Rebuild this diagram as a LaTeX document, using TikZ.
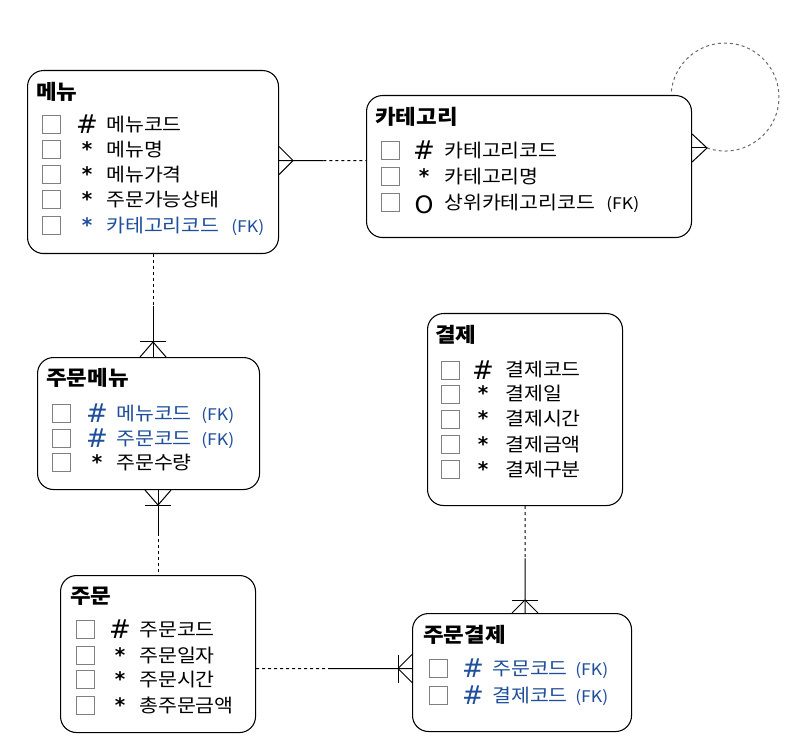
\documentclass[tikz,border=0pt]{standalone}
\usepackage{fontspec}
\setmainfont{Noto Sans CJK KR}[FakeStretch=1.1]
\newfontfamily\symfont{DejaVu Sans}
\usetikzlibrary{calc}
\definecolor{fkblue}{RGB}{31,78,155}
\definecolor{chkgray}{RGB}{128,128,128}
\definecolor{loopgray}{RGB}{105,105,105}
\tikzset{
  entity/.style={draw, fill=white, rounded corners=12pt, line width=0.8pt, anchor=north west, inner sep=0pt},
  etitle/.style={anchor=base west, inner sep=0pt, font=\fontsize{15.3}{18}\selectfont\bfseries},
  chk/.style={draw=chkgray, line width=0.75pt, minimum size=13.5pt, inner sep=0pt},
  hashsym/.style={anchor=base, inner sep=0pt, font=\symfont\fontsize{19.5}{22}\selectfont},
  starsym/.style={anchor=base, inner sep=0pt, font=\symfont\bfseries\fontsize{15}{18}\selectfont},
  osym/.style={anchor=base, inner sep=0pt, font=\symfont\fontsize{18}{20}\selectfont},
  attr/.style={anchor=base west, inner sep=0pt, font=\fontsize{14}{16}\selectfont},
  fk/.style={anchor=base west, inner sep=0pt, font=\fontsize{12}{14}\selectfont},
  idline/.style={line width=0.75pt},
  optline/.style={line width=0.75pt, dash pattern=on 2.25pt off 2.25pt},
  loopline/.style={line width=0.75pt, draw=loopgray, dash pattern=on 2.25pt off 2.25pt},
}
\begin{document}
\begin{tikzpicture}[x=0.75pt,y=-0.75pt]
\useasboundingbox (0,0) rectangle (797,756);

% ---------- entity boxes ----------
\node[entity, minimum width=188.25pt, minimum height=137.25pt] (menu) at (27,70) {};
\node[entity, minimum width=243.75pt, minimum height=106.5pt] (cat) at (366,95) {};
\node[entity, minimum width=166.5pt, minimum height=99pt] (om) at (37,357) {};
\node[entity, minimum width=146.25pt, minimum height=144pt] (pay) at (427,313) {};
\node[entity, minimum width=146.25pt, minimum height=117.75pt] (order) at (60,575) {};
\node[entity, minimum width=164.25pt, minimum height=88.5pt] (op) at (412,613) {};

% ---------- 메뉴 ----------
\node[etitle] (m-t) at (36,100) {메뉴};
\node[chk] (m-c1) at (51,125) {};
\node[chk] (m-c2) at (51,150) {};
\node[chk] (m-c3) at (51,175) {};
\node[chk] (m-c4) at (51,200) {};
\node[chk] (m-c5) at (51,226) {};
\node[hashsym] (m-s1) at (87,134) {\#};
\node[starsym] (m-s2) at (87,157) {*};
\node[starsym] (m-s3) at (87,182) {*};
\node[starsym] (m-s4) at (87,207) {*};
\node[starsym, text=fkblue] (m-s5) at (87,233) {*};
\node[attr] (m-a1) at (106,132) {메뉴코드};
\node[attr] (m-a2) at (106,157) {메뉴명};
\node[attr] (m-a3) at (106,182) {메뉴가격};
\node[attr] (m-a4) at (106,207) {주문가능상태};
\node[attr, text=fkblue] (m-a5) at (106,233) {카테고리코드};
\node[fk, text=fkblue] (m-f5) at (231,233) {(FK)};

% ---------- 카테고리 ----------
\node[etitle] (k-t) at (375,125) {카테고리};
\node[chk] (k-c1) at (390,151) {};
\node[chk] (k-c2) at (390,177) {};
\node[chk] (k-c3) at (390,203) {};
\node[hashsym] (k-s1) at (424,160) {\#};
\node[starsym] (k-s2) at (424,184) {*};
\node[osym] (k-s3) at (424,214) {O};
\node[attr] (k-a1) at (444,158) {카테고리코드};
\node[attr] (k-a2) at (444,184) {카테고리명};
\node[attr] (k-a3) at (444,210) {상위카테고리코드};
\node[fk] (k-f3) at (606,210) {(FK)};

% ---------- 주문메뉴 ----------
\node[etitle] (n-t) at (46,385) {주문메뉴};
\node[chk] (n-c1) at (61,413) {};
\node[chk] (n-c2) at (61,438) {};
\node[chk] (n-c3) at (61,462) {};
\node[hashsym, text=fkblue] (n-s1) at (97,422) {\#};
\node[hashsym, text=fkblue] (n-s2) at (97,447) {\#};
\node[starsym] (n-s3) at (97,469) {*};
\node[attr, text=fkblue] (n-a1) at (116,420) {메뉴코드};
\node[attr, text=fkblue] (n-a2) at (116,445) {주문코드};
\node[attr] (n-a3) at (116,469) {주문수량};
\node[fk, text=fkblue] (n-f1) at (201,420) {(FK)};
\node[fk, text=fkblue] (n-f2) at (201,445) {(FK)};

% ---------- 결제 ----------
\node[etitle] (p-t) at (435,343) {결제};
\node[chk] (p-c1) at (450,370) {};
\node[chk] (p-c2) at (450,394) {};
\node[chk] (p-c3) at (450,419) {};
\node[chk] (p-c4) at (450,444) {};
\node[chk] (p-c5) at (450,469) {};
\node[hashsym] (p-s1) at (483,379) {\#};
\node[starsym] (p-s2) at (483,401) {*};
\node[starsym] (p-s3) at (483,426) {*};
\node[starsym] (p-s4) at (483,451) {*};
\node[starsym] (p-s5) at (483,476) {*};
\node[attr] (p-a1) at (505,377) {결제코드};
\node[attr] (p-a2) at (505,401) {결제일};
\node[attr] (p-a3) at (505,426) {결제시간};
\node[attr] (p-a4) at (505,451) {결제금액};
\node[attr] (p-a5) at (505,476) {결제구분};

% ---------- 주문 ----------
\node[etitle] (o-t) at (70,603) {주문};
\node[chk] (o-c1) at (85,629) {};
\node[chk] (o-c2) at (85,655) {};
\node[chk] (o-c3) at (85,679) {};
\node[chk] (o-c4) at (85,705) {};
\node[hashsym] (o-s1) at (120,638) {\#};
\node[starsym] (o-s2) at (120,662) {*};
\node[starsym] (o-s3) at (120,686) {*};
\node[starsym] (o-s4) at (120,712) {*};
\node[attr] (o-a1) at (139,636) {주문코드};
\node[attr] (o-a2) at (139,662) {주문일자};
\node[attr] (o-a3) at (139,686) {주문시간};
\node[attr] (o-a4) at (139,712) {총주문금액};

% ---------- 주문결제 ----------
\node[etitle] (q-t) at (423,642) {주문결제};
\node[chk] (q-c1) at (438,668) {};
\node[chk] (q-c2) at (438,695) {};
\node[hashsym, text=fkblue] (q-s1) at (473,677) {\#};
\node[hashsym, text=fkblue] (q-s2) at (473,704) {\#};
\node[attr, text=fkblue] (q-a1) at (492,675) {주문코드};
\node[attr, text=fkblue] (q-a2) at (492,702) {결제코드};
\node[fk, text=fkblue] (q-f1) at (575,675) {(FK)};
\node[fk, text=fkblue] (q-f2) at (575,702) {(FK)};

% ---------- connectors ----------
% 메뉴 >---- 카테고리
\coordinate (c1a) at ($(menu.east)+(0,-1.5)$);
\coordinate (c1b) at (cat.west |- c1a);
\coordinate (c1m) at ($(c1a)!0.51!(c1b)$);
\draw[idline] (c1a) -- (c1m);
\draw[optline] (c1m) -- (c1b);
\draw[idline] ($(c1a)+(0,-14)$) -- ($(c1a)+(14,0)$) -- ($(c1a)+(0,14)$);

% 카테고리 self relation
\coordinate (c2a) at ($(cat.north east)+(0,53)$);
\coordinate (c2t) at ($(c2a)+(15,0)$);
\draw[idline] (c2a) -- (c2t);
\draw[idline] ($(c2a)+(0,-14)$) -- (c2t) -- ($(c2a)+(0,14)$);
\draw[loopline] (c2t) arc[start angle=109.4, end angle=-175.7, radius=54];

% 메뉴 ----< 주문메뉴
\coordinate (c3a) at (menu.south);
\coordinate (c3b) at (om.north -| c3a);
\coordinate (c3m) at ($(c3a)!0.5!(c3b)$);
\draw[optline] (c3a) -- (c3m);
\draw[idline] (c3m) -- (c3b);
\draw[idline] ($(c3b)+(-13,0)$) -- ($(c3b)+(0,-15)$) -- ($(c3b)+(13,0)$);
\draw[idline] ($(c3b)+(-13,-15)$) -- ($(c3b)+(13,-15)$);

% 주문메뉴 >---- 주문
\coordinate (c4a) at (order.north);
\coordinate (c4b) at (om.south -| c4a);
\coordinate (c4m) at ($(c4b)!0.5!(c4a)$);
\draw[idline] (c4b) -- (c4m);
\draw[optline] (c4m) -- (c4a);
\draw[idline] ($(c4b)+(-13,0)$) -- ($(c4b)+(0,15)$) -- ($(c4b)+(13,0)$);
\draw[idline] ($(c4b)+(-13,15)$) -- ($(c4b)+(13,15)$);

% 결제 ----< 주문결제
\coordinate (c5a) at (pay.south);
\coordinate (c5b) at (op.north -| c5a);
\coordinate (c5m) at ($(c5a)!0.49!(c5b)$);
\draw[optline] (c5a) -- (c5m);
\draw[idline] (c5m) -- (c5b);
\draw[idline] ($(c5b)+(-13,0)$) -- ($(c5b)+(0,-13)$) -- ($(c5b)+(13,0)$);
\draw[idline] ($(c5b)+(-13,-13)$) -- ($(c5b)+(13,-13)$);

% 주문 ----< 주문결제
\coordinate (c6b) at ($(op.west)+(0,-4)$);
\coordinate (c6a) at (order.east |- c6b);
\coordinate (c6m) at ($(c6a)!0.48!(c6b)$);
\draw[optline] (c6a) -- (c6m);
\draw[idline] (c6m) -- (c6b);
\draw[idline] ($(c6b)+(0,-14)$) -- ($(c6b)+(-14,0)$) -- ($(c6b)+(0,14)$);
\draw[idline] ($(c6b)+(-14,-14)$) -- ($(c6b)+(-14,14)$);
\end{tikzpicture}
\end{document}
